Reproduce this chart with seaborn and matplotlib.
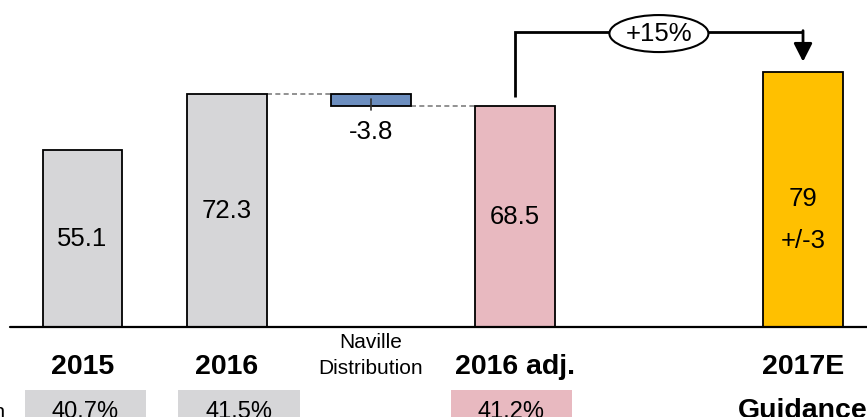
import matplotlib
matplotlib.use("Agg")
import matplotlib.pyplot as plt
from matplotlib.patches import Ellipse, Rectangle
import seaborn as sns
import pandas as pd

# ---- data ----
categories = ["2015", "2016", "2016 adj.", "2017E"]
cat_labels = ["2015", "2016", "2016 adj.", "2017E\nGuidance"]
positions = [0, 1, 3, 5]
values = [55.1, 72.3, 68.5, 79.0]
bar_colors = ["#D6D6D8", "#D6D6D8", "#E8B9C0", "#FFC000"]

bridge_label = "Naville\nDistribution"
bridge_pos = 2
bridge_value = -3.8

guidance_range = "+/-3"
growth_label = "+15%"

margin_title = "EBITDA margin"
margin_cats = ["2015", "2016", "2016 adj."]
margin_values = ["40.7%", "41.5%", "41.2%"]
margin_colors = ["#D6D6D8", "#D6D6D8", "#E8B9C0"]

sns.set_style("white")
plt.rcParams["font.family"] = ["Liberation Sans", "DejaVu Sans"]
plt.rcParams["text.color"] = "black"

fig = plt.figure(figsize=(8.67, 4.17), dpi=100)
ax = fig.add_axes([0, 0, 1, 1])

W = 0.555
df = pd.DataFrame({"pos": positions, "value": values, "cat": categories})
sns.barplot(data=df, x="pos", y="value", hue="cat", palette=dict(zip(categories, bar_colors)),
            native_scale=True, dodge=False, width=W, saturation=1, edgecolor="black", linewidth=1.3,
            legend=False, ax=ax, zorder=2)

# bridge (floating) bar
start = values[1]
ax.bar(bridge_pos, bridge_value, bottom=start, width=W, color="#6C8EBF",
       edgecolor="black", linewidth=1.3, zorder=2)
end = start + bridge_value
ax.plot([bridge_pos, bridge_pos], [start - 1.6, end - 1.2], color="#333333", lw=1.2, zorder=3)

# dashed connectors
ax.plot([1 + W / 2, bridge_pos - W / 2], [start, start], ls=(0, (3, 2)), color="#7F7F7F", lw=1.2, zorder=1)
ax.plot([bridge_pos + W / 2, 3 - W / 2], [end, end], ls=(0, (3, 2)), color="#7F7F7F", lw=1.2, zorder=1)

# baseline
ax.plot([-0.503, 5.6], [0, 0], color="black", lw=1.6, zorder=3, clip_on=False)

# value labels
VS = 18.5
for p, v in zip(positions[:3], values[:3]):
    ax.text(p, v / 2, f"{v:.1f}", ha="center", va="center", fontsize=VS, zorder=4)
ax.text(positions[3], values[3] / 2 + 0.2, f"{values[3]:.0f}", ha="center", va="center", fontsize=VS, zorder=4)
ax.text(positions[3], values[3] / 2 - 12.8, guidance_range, ha="center", va="center", fontsize=VS, zorder=4)
ax.text(bridge_pos, end - 8.0, f"{bridge_value:.1f}", ha="center", va="center", fontsize=VS, zorder=4)

# category labels
CS = 20.5
for p, lab in zip(positions, cat_labels):
    lines = lab.split("\n")
    ax.text(p, -14.4, lines[0], ha="center", va="baseline", fontsize=CS, fontweight="bold")
    if len(lines) > 1:
        ax.text(p, -28.0, lines[1], ha="center", va="baseline", fontsize=CS, fontweight="bold")
bl = bridge_label.split("\n")
ax.text(bridge_pos, -6.4, bl[0], ha="center", va="baseline", fontsize=15)
ax.text(bridge_pos, -14.4, bl[1], ha="center", va="baseline", fontsize=15)

# margin boxes
box_centers = [0.021, 1.086, 2.977]
for c, txt, col in zip(box_centers, margin_values, margin_colors):
    ax.add_patch(Rectangle((c - 0.42, -40), 0.84, 40 - 19.35, facecolor=col,
                           edgecolor="none", zorder=1, clip_on=False))
    ax.text(c, -28.1, txt, ha="center", va="baseline", fontsize=17, zorder=4)
ax.text(-0.535, -28.1, margin_title, ha="right", va="baseline", fontsize=15)

# growth bracket
top = 91.6
ax.plot([3, 3, 5], [values[2] + 3.0, top, top], color="black", lw=2, zorder=3,
        solid_joinstyle="miter", solid_capstyle="butt")
ax.annotate("", xy=(5, values[3] + 3.3), xytext=(5, top + 0.3),
            arrowprops=dict(arrowstyle="-|>,head_length=0.55,head_width=0.28",
                            mutation_scale=20, lw=2, color="black", shrinkA=0, shrinkB=0),
            zorder=3)
ax.add_patch(Ellipse((4, 91.0), 0.687, 11.46, facecolor="white", edgecolor="black", lw=1.5, zorder=4))
ax.text(4, 91.0, growth_label, ha="center", va="center", fontsize=VS, zorder=5)

ax.set_xlim(-0.5725, 5.444)
ax.set_ylim(-27.71, 101.39)
ax.axis("off")

fig.savefig("out.png", dpi=100)
